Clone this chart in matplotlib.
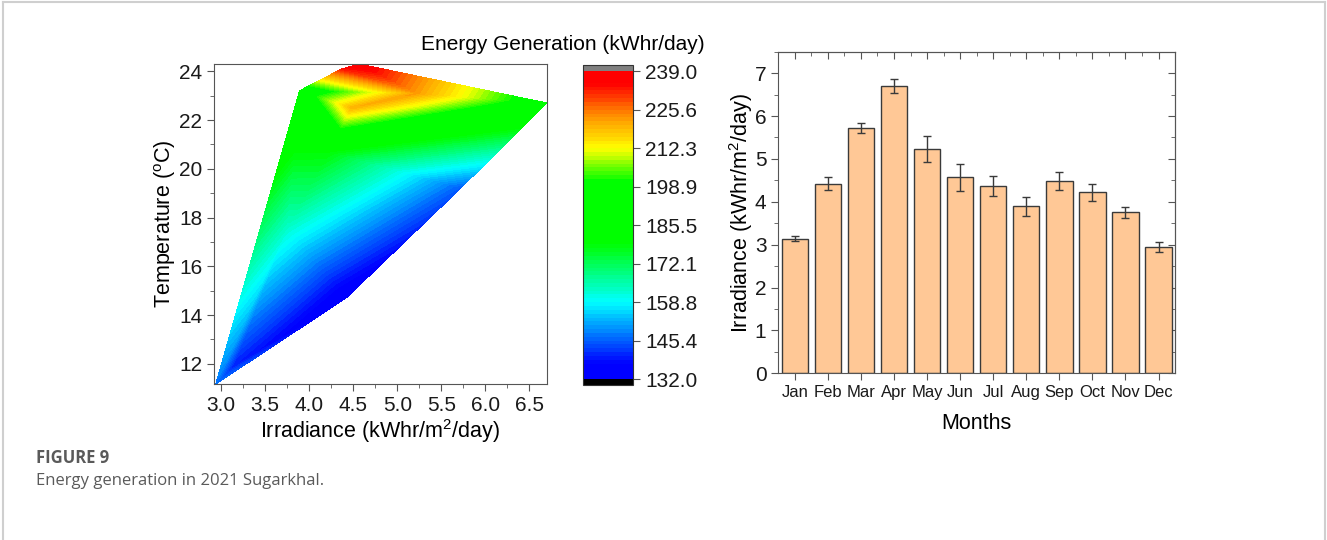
import numpy as np
import matplotlib
matplotlib.use('Agg')
import matplotlib.pyplot as plt
from matplotlib.colors import LinearSegmentedColormap
from matplotlib.lines import Line2D
from matplotlib.ticker import MultipleLocator

# monthly data, 2021 Sugarkhal
months = ['Jan', 'Feb', 'Mar', 'Apr', 'May', 'Jun', 'Jul', 'Aug', 'Sep', 'Oct', 'Nov', 'Dec']
irradiance = [3.14, 4.42, 5.72, 6.70, 5.23, 4.57, 4.37, 3.89, 4.48, 4.22, 3.75, 2.94]
irr_err = [0.065, 0.15, 0.125, 0.167, 0.30, 0.31, 0.24, 0.23, 0.21, 0.20, 0.125, 0.12]
temperature = [11.9, 14.7, 19.2, 22.7, 23.1, 24.3, 24.1, 23.2, 22.5, 20.7, 17.6, 11.17]
energy = [140, 133, 145, 193, 222, 238.5, 233, 192, 220, 179, 163, 147]

cbar_ticks = [132.0, 145.4, 158.8, 172.1, 185.5, 198.9, 212.3, 225.6, 239.0]

plt.rcParams['font.family'] = ['Liberation Sans', 'DejaVu Sans']
plt.rcParams['mathtext.fontset'] = 'custom'
plt.rcParams['mathtext.rm'] = 'Liberation Sans'
plt.rcParams['mathtext.it'] = 'Liberation Sans:italic'
plt.rcParams['axes.edgecolor'] = '#555555'
plt.rcParams['xtick.color'] = '#555555'
plt.rcParams['ytick.color'] = '#555555'
plt.rcParams['xtick.labelcolor'] = '#1a1a1a'
plt.rcParams['ytick.labelcolor'] = '#1a1a1a'

# Origin-like rainbow palette
stops = [(0.0, (0, 0, 1)), (0.05, (0, 0, 1)), (0.25, (0, 1, 1)), (0.44, (0, 1, 0)),
         (0.645, (0, 1, 0)), (0.75, (1, 1, 0)), (0.86, (1, 0.55, 0)), (0.96, (1, 0, 0)),
         (1.0, (1, 0, 0))]
cmap = LinearSegmentedColormap.from_list('origin_rainbow', stops)
cmap.set_over('#808080')
cmap.set_under('black')

fig = plt.figure(figsize=[13.27, 5.4], dpi=100)

# ---- contour panel ----
ax1 = fig.add_axes([0.1613, 0.2889, 0.2509, 0.5926])
levels = np.linspace(132, 239, 81)
cs = ax1.tricontourf(irradiance, temperature, energy, levels=levels, cmap=cmap, extend='both')
ax1.set_xlim(2.92, 6.70)
ax1.set_ylim(11.17, 24.3)
ax1.xaxis.set_major_locator(MultipleLocator(0.5))
ax1.xaxis.set_minor_locator(MultipleLocator(0.25))
ax1.yaxis.set_major_locator(MultipleLocator(2))
ax1.yaxis.set_minor_locator(MultipleLocator(1))
ax1.xaxis.set_major_formatter(plt.FormatStrFormatter('%.1f'))
ax1.tick_params(which='major', length=5, labelsize=15)
ax1.tick_params(which='minor', length=3)
ax1.set_xlabel('Irradiance (kWhr/m$^2$/day)', fontsize=15.5, labelpad=2)
ax1.set_ylabel('Temperature ($^{\\mathrm{o}}$C)', fontsize=15.5, labelpad=1)

cax = fig.add_axes([0.4396, 0.2865, 0.0377, 0.593])
cb = fig.colorbar(cs, cax=cax, ticks=cbar_ticks, extendrect=True, extendfrac=0.02)
cb.ax.set_yticklabels(['%.1f' % t for t in cbar_ticks])
cb.ax.tick_params(length=5, labelsize=15)
cb.outline.set_edgecolor('#333333')
cb.ax.minorticks_off()
fig.text(0.4245, 1 - 44 / 540, 'Energy Generation (kWhr/day)', ha='center', va='center', fontsize=15)

# ---- bar panel ----
ax2 = fig.add_axes([0.5865, 0.3087, 0.299, 0.5956])
x = np.arange(1, len(months) + 1)
ax2.bar(x, irradiance, width=0.8, color='#FFC896', edgecolor='#3a3a3a', linewidth=1.0,
        yerr=irr_err, capsize=3, error_kw=dict(ecolor='#3a3a3a', elinewidth=1.0, capthick=1.0))
ax2.set_xlim(0.5, 12.5)
ax2.set_ylim(0, 7.5)
ax2.set_xticks(x)
ax2.set_xticklabels(months)
ax2.yaxis.set_major_locator(MultipleLocator(1))
ax2.yaxis.set_minor_locator(MultipleLocator(0.5))
ax2.tick_params(axis='y', which='major', length=5, labelsize=15)
ax2.tick_params(axis='y', which='minor', length=3)
ax2.tick_params(axis='x', which='major', length=5, labelsize=12)
ax2.set_xlabel('Months', fontsize=15.5, labelpad=9)
ax2.set_ylabel('Irradiance (kWhr/m$^2$/day)', fontsize=15.5, labelpad=0)

# mirrored ticks on top/right point inward
ax_top = ax2.secondary_xaxis('top')
ax_top.set_xticks(x)
ax_top.xaxis.set_minor_locator(MultipleLocator(0.5))
ax_top.tick_params(which='major', direction='in', length=5, labeltop=False)
ax_top.tick_params(which='minor', direction='in', length=3)
ax_right = ax2.secondary_yaxis('right')
ax_right.yaxis.set_major_locator(MultipleLocator(1))
ax_right.yaxis.set_minor_locator(MultipleLocator(0.5))
ax_right.tick_params(which='major', direction='in', length=5, labelright=False)
ax_right.tick_params(which='minor', direction='in', length=3)

# caption and page frame
fig.text(36 / 1327, 1 - 458 / 540, 'FIGURE 9', ha='left', va='center', fontsize=12,
         fontweight='bold', color='#5a5a5a', family=['Open Sans', 'DejaVu Sans'])
fig.text(36 / 1327, 1 - 481 / 540, 'Energy generation in 2021 Sugarkhal.', ha='left', va='center',
         fontsize=12, color='#5a5a5a', family=['Open Sans', 'DejaVu Sans'])
frame_c = '#cfcfcf'
fig.add_artist(Line2D([3 / 1327, 3 / 1327], [0, 1 - 2 / 540], transform=fig.transFigure, color=frame_c, lw=1.5))
fig.add_artist(Line2D([3 / 1327, 1325 / 1327], [1 - 2 / 540, 1 - 2 / 540], transform=fig.transFigure, color=frame_c, lw=1.5))
fig.add_artist(Line2D([1325 / 1327, 1325 / 1327], [0, 1 - 2 / 540], transform=fig.transFigure, color=frame_c, lw=1.5))

fig.savefig('out.png', dpi=100)
